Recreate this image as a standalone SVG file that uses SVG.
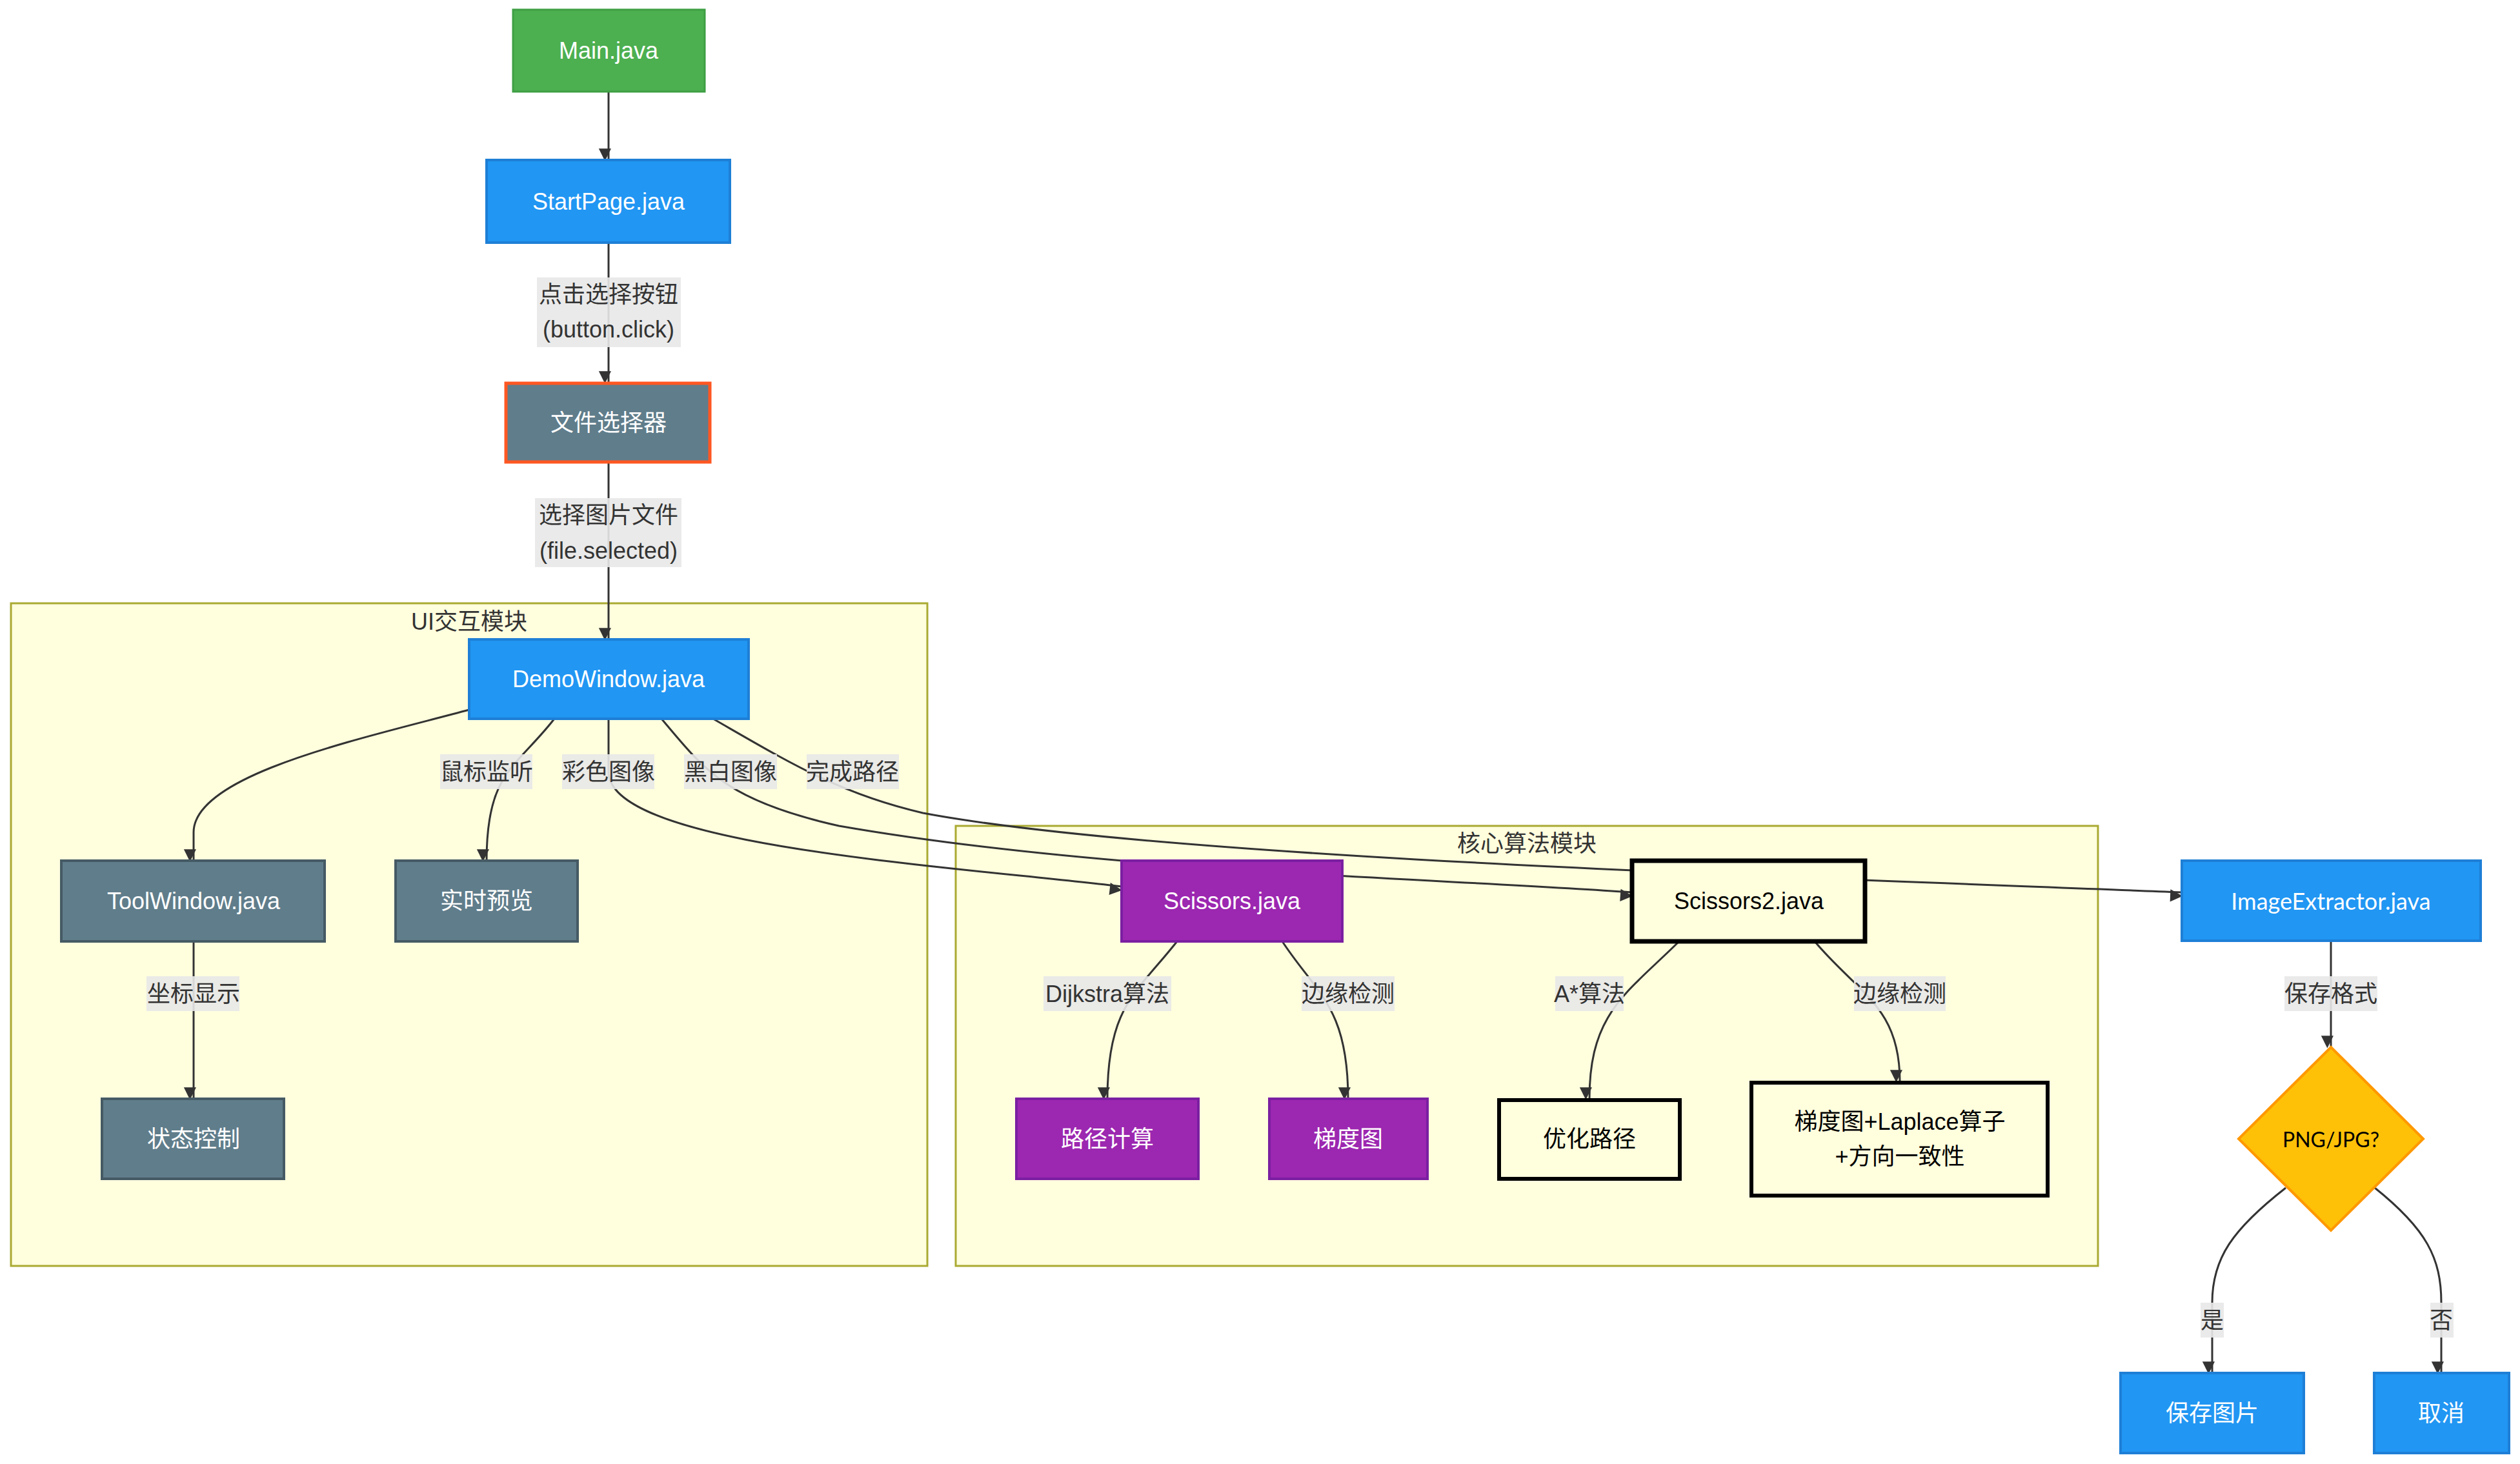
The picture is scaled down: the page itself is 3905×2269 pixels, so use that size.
<svg xmlns="http://www.w3.org/2000/svg" width="3905" height="2269" viewBox="0 0 3905 2269">
<style>
text{font-family:"Liberation Sans","Noto Sans CJK SC",sans-serif;font-size:36px;text-anchor:middle;dominant-baseline:central}
.w{fill:#fff}.k{fill:#000}.d{fill:#333}
.green{fill:#4CAF50;stroke:#3E9F44;stroke-width:3}
.blue{fill:#2196F3;stroke:#1E7FD6;stroke-width:4}
.gray{fill:#607D8B;stroke:#455A64;stroke-width:4}
.purple{fill:#9C27B0;stroke:#7B1FA2;stroke-width:4}
.plain{fill:#FFFFDE;stroke:#000;stroke-width:7}
.cl{fill:#FFFFDE;stroke:#AAAA33;stroke-width:3}
.lb{fill:#E8E8E8;opacity:0.9}
.e{fill:none;stroke:#333;stroke-width:3;marker-end:url(#a)}
</style>
<defs><marker id="a" viewBox="0 0 10 10" refX="9" refY="5" markerWidth="8" markerHeight="8" markerUnits="userSpaceOnUse" orient="auto" style="overflow:visible"><path d="M0,0L10,5L0,10z" fill="#333" transform="scale(2.4) translate(-5.5,-0)"/></marker></defs>
<rect width="3905" height="2269" fill="#fff"/>
<g id="cluster-ui"><rect class="cl" x="17" y="935" width="1420" height="1027"/><text class="d" x="727" y="963">UI交互模块</text></g>
<g id="cluster-core"><rect class="cl" x="1481" y="1280" width="1770" height="682"/><text class="d" x="2366" y="1307">核心算法模块</text></g>
<g id="edges">
<path class="e" d="M943,142L943,248"/>
<path class="e" d="M943,376L943,593"/>
<path class="e" d="M943,716L943,991"/>
<path class="e" d="M727,1100C560,1145 300,1200 300,1290L300,1334"/>
<path class="e" d="M859,1114C800,1190 754,1196 754,1334"/>
<path class="e" d="M943,1114L943,1196C943,1310 1450,1340 1738,1374"/>
<path class="e" d="M1025,1114C1090,1190 1120,1240 1300,1280C1700,1350 2200,1360 2529,1383"/>
<path class="e" d="M1105,1114C1220,1180 1300,1230 1430,1260C1800,1330 2800,1360 3381,1383"/>
<path class="e" d="M1824,1459C1760,1540 1716,1560 1716,1703"/>
<path class="e" d="M1987,1459C2040,1540 2089,1560 2089,1703"/>
<path class="e" d="M2602,1459C2520,1540 2463,1570 2463,1703"/>
<path class="e" d="M2812,1459C2880,1540 2944,1560 2944,1676"/>
<path class="e" d="M300,1459L300,1703"/>
<path class="e" d="M3612,1458L3612,1623"/>
<path class="e" d="M3542,1841C3460,1905 3428,1950 3428,2019L3428,2128"/>
<path class="e" d="M3680,1841C3760,1905 3783,1950 3783,2019L3783,2128"/>
</g>
<g id="edge-labels">
<rect class="lb" x="832" y="430" width="223" height="108"/><text class="d" x="943" y="456">点击选择按钮</text><text class="d" x="943" y="510">(button.click)</text>
<rect class="lb" x="829" y="772" width="227" height="107"/><text class="d" x="943" y="798">选择图片文件</text><text class="d" x="943" y="853">(file.selected)</text>
<rect class="lb" x="682" y="1169" width="143" height="54"/><text class="d" x="754" y="1196">鼠标监听</text>
<rect class="lb" x="871" y="1169" width="143" height="54"/><text class="d" x="943" y="1196">彩色图像</text>
<rect class="lb" x="1060" y="1169" width="144" height="54"/><text class="d" x="1132" y="1196">黑白图像</text>
<rect class="lb" x="1250" y="1169" width="143" height="54"/><text class="d" x="1321" y="1196">完成路径</text>
<rect class="lb" x="227" y="1513" width="144" height="54"/><text class="d" x="300" y="1540">坐标显示</text>
<rect class="lb" x="1617" y="1513" width="198" height="54"/><text class="d" x="1716" y="1540">Dijkstra算法</text>
<rect class="lb" x="2017" y="1513" width="144" height="54"/><text class="d" x="2089" y="1540">边缘检测</text>
<rect class="lb" x="2410" y="1513" width="106" height="54"/><text class="d" x="2463" y="1540">A*算法</text>
<rect class="lb" x="2873" y="1513" width="142" height="54"/><text class="d" x="2944" y="1540">边缘检测</text>
<rect class="lb" x="3540" y="1513" width="144" height="54"/><text class="d" x="3612" y="1540">保存格式</text>
<rect class="lb" x="3410" y="2019" width="36" height="54"/><text class="d" x="3428" y="2046">是</text>
<rect class="lb" x="3766" y="2019" width="36" height="54"/><text class="d" x="3783" y="2046">否</text>
</g>
<g id="main"><rect class="green" x="795" y="15" width="297" height="127"/><text class="w" x="943" y="78">Main.java</text></g>
<g id="startpage"><rect class="blue" x="754" y="248" width="377" height="128"/><text class="w" x="943" y="312">StartPage.java</text></g>
<g id="filechooser"><rect class="gray" x="784" y="594" width="316" height="122" style="stroke:#FF5722;stroke-width:5"/><text class="w" x="943" y="655">文件选择器</text></g>
<g id="demowindow"><rect class="blue" x="727" y="991" width="433" height="123"/><text class="w" x="943" y="1052">DemoWindow.java</text></g>
<g id="toolwindow"><rect class="gray" x="95" y="1334" width="408" height="125"/><text class="w" x="300" y="1396">ToolWindow.java</text></g>
<g id="preview"><rect class="gray" x="613" y="1334" width="282" height="125"/><text class="w" x="754" y="1396">实时预览</text></g>
<g id="state"><rect class="gray" x="158" y="1703" width="282" height="124"/><text class="w" x="300" y="1765">状态控制</text></g>
<g id="scissors"><rect class="purple" x="1738" y="1334" width="342" height="125"/><text class="w" x="1909" y="1396">Scissors.java</text></g>
<g id="scissors2"><rect class="plain" x="2529" y="1334" width="361" height="125"/><text class="k" x="2710" y="1396">Scissors2.java</text></g>
<g id="pathcalc"><rect class="purple" x="1575" y="1703" width="282" height="124"/><text class="w" x="1716" y="1765">路径计算</text></g>
<g id="gradient"><rect class="purple" x="1967" y="1703" width="245" height="124"/><text class="w" x="2089" y="1765">梯度图</text></g>
<g id="optpath"><rect class="plain" x="2323" y="1705" width="280" height="122" style="stroke-width:6"/><text class="k" x="2463" y="1765">优化路径</text></g>
<g id="laplace"><rect class="plain" x="2714" y="1678" width="459" height="175" style="stroke-width:6"/><text class="k" x="2944" y="1738">梯度图+Laplace算子</text><text class="k" x="2944" y="1792">+方向一致性</text></g>
<g id="extractor"><rect class="blue" x="3381" y="1334" width="463" height="124"/><text class="w" x="3612" y="1396" style="font-family:Lato,'Noto Sans CJK SC',sans-serif">ImageExtractor.java</text></g>
<g id="decision"><polygon points="3612,1623 3755,1765 3612,1907 3469,1765" fill="#FFC107" stroke="#FF9800" stroke-width="4"/><text class="k" x="3612" y="1765" style="font-family:Lato,sans-serif;font-size:32px">PNG/JPG?</text></g>
<g id="save"><rect class="blue" x="3286" y="2128" width="284" height="124"/><text class="w" x="3428" y="2190">保存图片</text></g>
<g id="cancel"><rect class="blue" x="3679" y="2128" width="209" height="124"/><text class="w" x="3783" y="2190">取消</text></g>
</svg>
